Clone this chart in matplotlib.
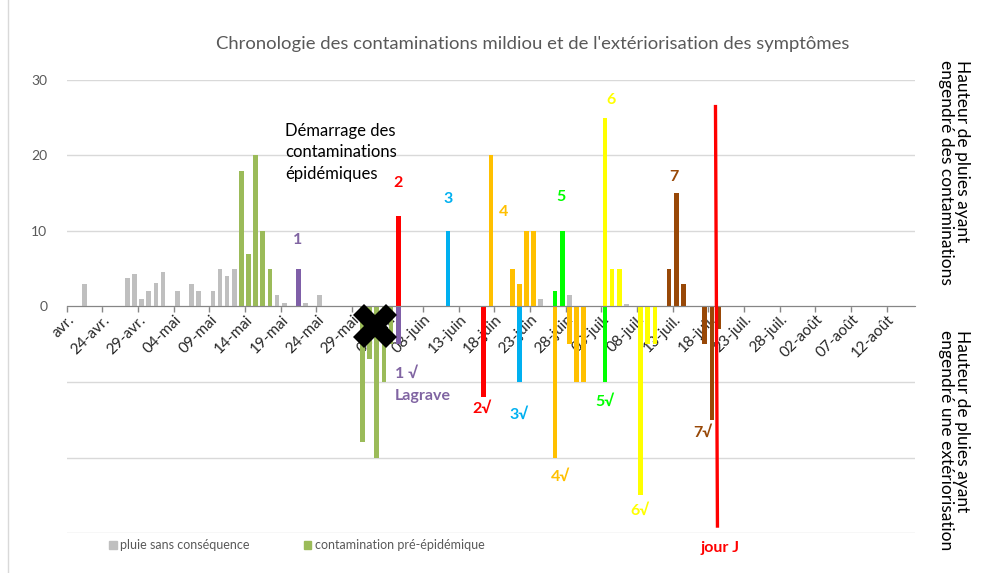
import numpy as np
import pandas as pd
import matplotlib
matplotlib.use("Agg")
import matplotlib.pyplot as plt
from matplotlib.lines import Line2D
from matplotlib.patches import Patch
from matplotlib.transforms import ScaledTranslation

plt.rcParams['font.family'] = ['Lato', 'DejaVu Sans']

# axe des dates (une graduation tous les 5 jours)
start = pd.Timestamp("2021-04-19")
tick_labels = ["avr.", "24-avr.", "29-avr.", "04-mai", "09-mai", "14-mai", "19-mai",
               "24-mai", "29-mai", "03-juin", "08-juin", "13-juin", "18-juin", "23-juin",
               "28-juin", "03-juil.", "08-juil.", "13-juil.", "18-juil.", "23-juil.",
               "28-juil.", "02-août", "07-août", "12-août"]

# pluie sans conséquence
gray_dates = ["04-21", "04-27", "04-28", "04-29", "04-30", "05-01", "05-02", "05-04",
              "05-06", "05-07", "05-09", "05-10", "05-11", "05-12", "05-18", "05-19",
              "05-22", "05-24", "06-24", "06-28", "07-06"]
gray_mm = [3.0, 3.8, 4.3, 1.0, 2.0, 3.1, 4.6, 2.0, 3.0, 2.0, 2.0, 5.0, 4.0, 5.0,
           1.5, 0.5, 0.5, 1.5, 1.0, 1.5, 0.3]

# contamination pré-épidémique (+) et extériorisation (-)
pre_dates = ["05-13", "05-14", "05-15", "05-16", "05-17",
             "05-30", "05-31", "06-01", "06-02", "06-03"]
pre_mm = [18, 7, 20, 10, 5, -18, -7, -20, -10, -5]

# contaminations épidémiques 1 à 7
c1_dates = ["05-21", "06-04"]
c1_mm = [5, -5]
c2_dates = ["06-04", "06-16"]
c2_mm = [12, -12]
c3_dates = ["06-11", "06-21"]
c3_mm = [10, -10]
c4_dates = ["06-17", "06-20", "06-21", "06-22", "06-23", "06-26", "06-28", "06-29", "06-30"]
c4_mm = [20, 5, 3, 10, 10, -20, -5, -10, -10]
c5_dates = ["06-26", "06-27", "07-03"]
c5_mm = [2, 10, -10]
c6_dates = ["07-03", "07-04", "07-05", "07-08", "07-09", "07-10"]
c6_mm = [25, 5, 5, -25, -5, -5]
c7_dates = ["07-12", "07-13", "07-14", "07-17", "07-18", "07-19"]
c7_mm = [5, 15, 3, -5, -15, -3]

jour_j = "07-19"
jour_j_span = [26.7, -29.3]


def day_pos(dates):
    d = pd.to_datetime(["2021-" + s for s in dates])
    return np.array((d - start).days, dtype=float) + 0.5


fig = plt.figure(figsize=(9.83, 5.73), dpi=100)
ax = fig.add_axes([0.0679, 0.0698, 0.863, 0.7906])

w = 0.66
ax.bar(day_pos(gray_dates), gray_mm, width=w, color="#BFBFBF", zorder=2)
ax.bar(day_pos(pre_dates), pre_mm, width=w, color="#9BBB59", zorder=2)
series = [(c1_dates, c1_mm, "#7F5FA8"), (c2_dates, c2_mm, "#FF0000"),
          (c3_dates, c3_mm, "#00B0F0"), (c4_dates, c4_mm, "#FFC000"),
          (c5_dates, c5_mm, "#00FF00"), (c6_dates, c6_mm, "#FFFF00"),
          (c7_dates, c7_mm, "#984807")]
for dates, mm, col in series:
    ax.bar(day_pos(dates), mm, width=w, color=col, zorder=2)

# jour J
xj = day_pos([jour_j])[0] - 0.5
ax.plot([xj, xj + 0.28], jour_j_span, color="#FF0000", lw=2.4, zorder=4,
        solid_capstyle="butt")

# croix : démarrage
ax.plot([43.2], [-2.6], marker="X", markersize=31, color="black", zorder=5,
        markeredgewidth=0)

ax.set_xlim(0, 119)
ax.set_ylim(-30, 30)

# spines d'abord (set_position remet les graduations à zéro)
for s in ["left", "right", "top"]:
    ax.spines[s].set_visible(False)
ax.spines["bottom"].set_position(("data", 0))
ax.spines["bottom"].set_color("#868686")
ax.spines["bottom"].set_zorder(3)

ax.tick_params(axis="x", direction="out", length=4, width=1, color="#868686", pad=4)
ax.tick_params(axis="y", length=0, pad=14)

ticks = np.arange(len(tick_labels)) * 5
ax.set_xticks(ticks)
ax.set_xticklabels(tick_labels, fontsize=11, color="#262626")
for lab in ax.get_xticklabels():
    lab.set_rotation(45)
    lab.set_horizontalalignment("right")
    lab.set_verticalalignment("center")
    lab.set_rotation_mode("anchor")
    lab.set_transform(lab.get_transform() + ScaledTranslation(4 / 72, 0, fig.dpi_scale_trans))

ax.set_yticks([-30, -20, -10, 0, 10, 20, 30])
ax.set_yticklabels(["", "", "", "0", "10", "20", "30"], fontsize=10, color="#595959")
ax.yaxis.grid(True, color="#D9D9D9", lw=1)
ax.set_axisbelow(True)

# textes
lab_kw = dict(fontsize=11.5, fontweight="bold", ha="center", va="center")
ax.text(32.4, 8.8, "1", color="#8064A2", **lab_kw)
ax.text(46.5, 16.3, "2", color="#FF0000", **lab_kw)
ax.text(53.5, 14.2, "3", color="#00B0F0", **lab_kw)
ax.text(61.3, 12.5, "4", color="#FFC000", **lab_kw)
ax.text(69.3, 14.5, "5", color="#00FF00", **lab_kw)
ax.text(76.3, 27.3, "6", color="#FFFF00", **lab_kw)
ax.text(85.2, 17.1, "7", color="#984807", **lab_kw)
ax.text(47.6, -8.9, "1 √", color="#8064A2", **lab_kw)
ax.text(50.0, -11.9, "Lagrave", color="#8064A2", **lab_kw)
ax.text(58.3, -13.6, "2√", color="#FF0000", **lab_kw)
ax.text(63.4, -14.4, "3√", color="#00B0F0", **lab_kw)
ax.text(69.2, -22.6, "4√", color="#FFC000", **lab_kw)
ax.text(75.5, -12.6, "5√", color="#00FF00", **lab_kw)
ax.text(80.4, -27.1, "6√", color="#FFFF00", **lab_kw)
ax.text(89.2, -16.8, "7√", color="#984807", **lab_kw)
ax.text(91.6, -32.0, "jour J", color="#FF0000", clip_on=False, **lab_kw)

ax.text(30.6, 20.4, "Démarrage des\ncontaminations\népidémiques", fontsize=12,
        ha="left", va="center", color="black", linespacing=1.45)

fig.text(533 / 983, 1 - 44 / 573,
         "Chronologie des contaminations mildiou et de l'extériorisation des symptômes",
         ha="center", va="center", fontsize=13.3, color="#595959")

fig.text(954 / 983, 1 - 60 / 573, "Hauteur de pluies ayant\nengendré des contaminations",
         rotation=-90, ha="center", va="top", multialignment="left", fontsize=12.5,
         color="black", linespacing=1.05)
fig.text(954 / 983, 1 - 330 / 573, "Hauteur de pluies ayant\nengendré une extériorisation",
         rotation=-90, ha="center", va="top", multialignment="left", fontsize=12.5,
         color="black", linespacing=1.05)

handles = [Patch(color="#BFBFBF"), Patch(color="#9BBB59")]
fig.legend(handles, ["pluie sans conséquence", "contamination pré-épidémique"],
           loc="center", bbox_to_anchor=(0.302, 1 - 545 / 573), ncol=2, frameon=False,
           fontsize=9, labelcolor="#595959", handlelength=0.6, handleheight=0.6,
           handletextpad=0.3, columnspacing=4.3)

fig.add_artist(Line2D([8 / 983, 8 / 983], [0, 1], color="#D9D9D9", lw=1))

fig.savefig("out.png", dpi=100)
